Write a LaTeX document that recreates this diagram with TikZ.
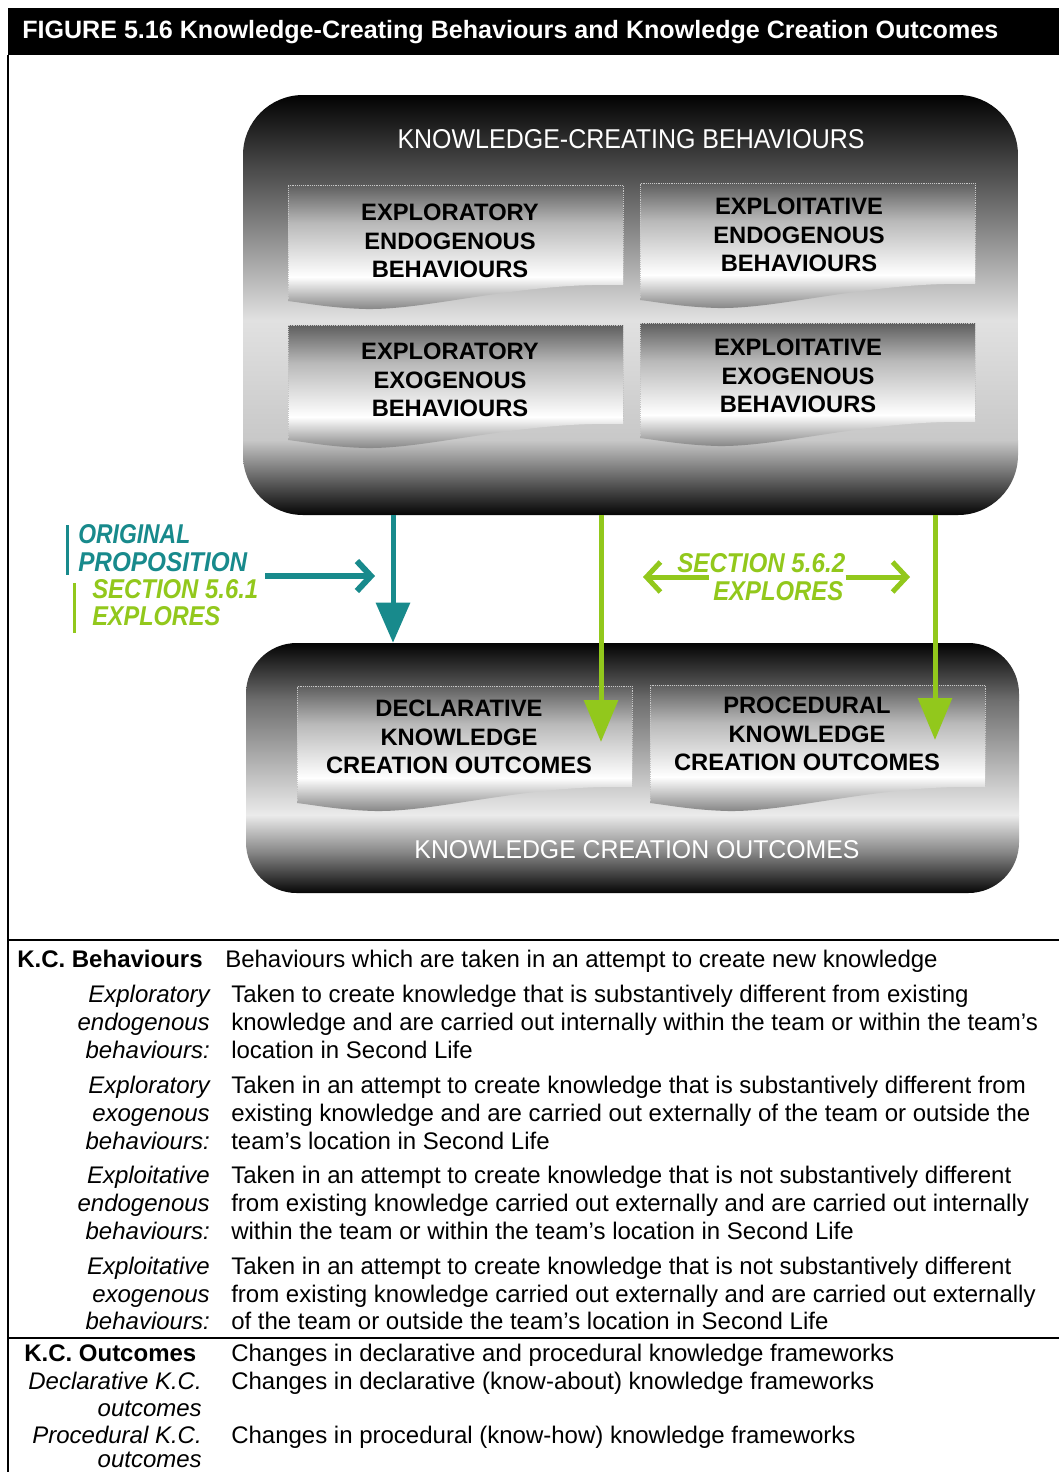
\documentclass[tikz,border=0pt]{standalone}
\usepackage{fontspec}
\setmainfont{Liberation Sans}
\usetikzlibrary{arrows.meta}
\definecolor{tealc}{RGB}{24,138,140}
\definecolor{greenc}{RGB}{146,200,28}
\definecolor{docA}{RGB}{92,92,92}
\definecolor{docB}{RGB}{185,185,185}
\definecolor{docC}{RGB}{120,120,120}
\newlength{\px}\setlength{\px}{0.75pt}
\newcommand{\capsfit}[3]{\resizebox{#1\px}{#2\px}{#3}}
\newcommand{\docbox}[4]{%
  \begin{scope}
    \clip (#1,#2) -- (#3,#2) -- (#3,{#4-16}) .. controls ({#3-103},{#4-19}) and ({#1+142},{#4+9}) .. ({#1+78},{#4+8}) .. controls ({#1+42},{#4+7}) and ({#1+17},{#4+2}) .. (#1,#4) -- cycle;
    \shade[top color=docA, bottom color=docB] ({#1-1},{#2-1}) rectangle ({#3+1},{#2+38});
    \shade[top color=docB, bottom color=white] ({#1-1},{#2+38}) rectangle ({#3+1},{#2+92});
    \shade[top color=white, bottom color=docC] ({#1-1},{#2+92}) rectangle ({#3+1},{#4+12});
  \end{scope}
  \draw[gray!45, densely dotted, line width=0.4pt] (#1,{#4-2}) -- (#1,#2) -- (#3,#2) -- (#3,{#4-18});}
\begin{document}
\begin{tikzpicture}[x=0.75pt,y=-0.75pt,
  boxtxt/.style={font=\fontsize{17.8}{21.5}\selectfont\bfseries, align=center, text=black, inner sep=0},
  tabtxt/.style={font=\fontsize{18}{21}\selectfont, inner sep=0, anchor=base west},
  tablab/.style={font=\fontsize{18}{21}\selectfont\itshape, inner sep=0, anchor=base east},
  tabhead/.style={font=\fontsize{18}{21}\selectfont\bfseries, inner sep=0, anchor=base west},
  tealv/.style={draw=tealc, line width=3.75pt, -{Triangle[length=30pt, width=25pt]}},
  greenv/.style={draw=greenc, line width=3.75pt, -{Triangle[length=31.5pt, width=25pt]}},
  tealh/.style={draw=tealc, line width=4.5pt, -{Straight Barb[length=10.5pt, width=22.5pt]}},
  greenh/.style={draw=greenc, line width=3.75pt, -{Straight Barb[length=10.5pt, width=22.5pt]}},
  rule/.style={draw=black, line width=1.5pt}]
\useasboundingbox (0,0) rectangle (1059,1472);
\fill[white] (0,0) rectangle (1059,1472);

% header
\fill[black] (8,8) rectangle (1059,55);
\node[anchor=west, text=white, inner sep=0, font=\bfseries] (title) at (22,32)
  {\resizebox{976\px}{!}{FIGURE 5.16 Knowledge-Creating Behaviours and Knowledge Creation Outcomes}};
\draw[rule] (8,55) -- (8,1472);

% top outer box
\begin{scope}
  \clip[rounded corners=45pt] (243,95) rectangle (1018,515);
  \shade[top color=black, bottom color={rgb,255:red,105;green,105;blue,105}] (240,93) rectangle (1020,200);
  \shade[top color={rgb,255:red,105;green,105;blue,105}, bottom color={rgb,255:red,225;green,225;blue,225}] (240,200) rectangle (1020,320);
  \shade[top color={rgb,255:red,225;green,225;blue,225}, bottom color={rgb,255:red,200;green,200;blue,200}] (240,320) rectangle (1020,440);
  \shade[top color={rgb,255:red,200;green,200;blue,200}, bottom color=black] (240,440) rectangle (1020,517);
\end{scope}
\node[inner sep=0, minimum width=581.25pt, minimum height=315pt] (kcb) at (630.5,305) {};
\node[text=white, inner sep=0] (kcbt) at (631,139) {\capsfit{467}{19}{KNOWLEDGE-CREATING BEHAVIOURS}};

\docbox{288}{185}{623}{301}
\docbox{640}{183}{975}{300}
\docbox{288}{325}{623}{440}
\docbox{640}{323}{975}{438}
\node[boxtxt] (b1) at (450,241) {EXPLORATORY\\ENDOGENOUS\\BEHAVIOURS};
\node[boxtxt] (b2) at (799,235) {EXPLOITATIVE\\ENDOGENOUS\\BEHAVIOURS};
\node[boxtxt] (b3) at (450,380) {EXPLORATORY\\EXOGENOUS\\BEHAVIOURS};
\node[boxtxt] (b4) at (798,376) {EXPLOITATIVE\\EXOGENOUS\\BEHAVIOURS};

% bottom outer box
\begin{scope}
  \clip[rounded corners=38pt] (246,643) rectangle (1019,893);
  \shade[top color=black, bottom color={rgb,255:red,110;green,110;blue,110}] (243,641) rectangle (1021,700);
  \shade[top color={rgb,255:red,110;green,110;blue,110}, bottom color={rgb,255:red,235;green,235;blue,235}] (243,700) rectangle (1021,815);
  \shade[top color={rgb,255:red,235;green,235;blue,235}, bottom color={rgb,255:red,135;green,135;blue,135}] (243,815) rectangle (1021,852);
  \shade[top color={rgb,255:red,135;green,135;blue,135}, bottom color=black] (243,852) rectangle (1021,895);
\end{scope}
\node[inner sep=0, minimum width=579.75pt, minimum height=187.5pt] (kco) at (632.5,768) {};
\node[text=white, inner sep=0] (kcot) at (637,850) {\capsfit{445}{18}{KNOWLEDGE CREATION OUTCOMES}};

\docbox{297}{686}{632}{803}
\docbox{650}{685}{985}{803}
\node[boxtxt] (dk) at (459,737) {DECLARATIVE\\KNOWLEDGE\\CREATION OUTCOMES};
\node[boxtxt] (pk) at (807,734) {PROCEDURAL\\KNOWLEDGE\\CREATION OUTCOMES};

% left labels
\draw[tealc, line width=2.25pt] (67,525) -- (67,575);
\draw[greenc, line width=2.25pt] (74,583) -- (74,633);
\node[anchor=west, inner sep=0, text=tealc] (orig) at (78,534) {\capsfit{112}{19}{\bfseries\itshape ORIGINAL}};
\node[anchor=west, inner sep=0, text=tealc] (prop) at (78,562) {\capsfit{169}{19}{\bfseries\itshape PROPOSITION}};
\node[anchor=west, inner sep=0, text=greenc] (sec1) at (92,589) {\capsfit{166}{19}{\bfseries\itshape SECTION 5.6.1}};
\node[anchor=west, inner sep=0, text=greenc] (expl1) at (92,616) {\capsfit{128}{19}{\bfseries\itshape EXPLORES}};
\node[anchor=west, inner sep=0, text=greenc] (sec2) at (677,563) {\capsfit{168}{19}{\bfseries\itshape SECTION 5.6.2}};
\node[anchor=west, inner sep=0, text=greenc] (expl2) at (713,591) {\capsfit{130}{19}{\bfseries\itshape EXPLORES}};

% arrows
\coordinate (xa) at (393,0);
\coordinate (xb) at (601,0);
\coordinate (xc) at (935,0);
\coordinate (gb) at (601,742);
\coordinate (gc) at (935,740);
\coordinate (th1) at (265,576);
\coordinate (th2) at (375,576);
\coordinate (gl) at (643,577);
\coordinate (gr) at (910,577);
\draw[tealv] (xa |- kcb.south) -- (xa |- kco.north);
\draw[greenv] (xb |- kcb.south) -- (gb);
\draw[greenv] (xc |- kcb.south) -- (gc);
\draw[tealh] (th1) -- (th2);
\draw[greenh] ([xshift=-3pt]expl2.west |- gl) -- (gl);
\draw[greenh] ([xshift=1.5pt]expl2.east |- gr) -- (gr);

% table
\draw[rule] (8,940) -- (1059,940);
\draw[rule] (8,1338) -- (1059,1338);

\node[tabhead] (kcbh) at (17,967) {K.C. Behaviours};
\node[tabtxt] (kcbd) at (225,967) {Behaviours which are taken in an attempt to create new knowledge};

\node[tablab] (l1a) at (210,1002) {Exploratory};
\node[tablab] (l1b) at (210,1030) {endogenous};
\node[tablab] (l1c) at (210,1058) {behaviours:};
\node[tabtxt] (d1a) at (231,1002) {Taken to create knowledge that is substantively different from existing};
\node[tabtxt] (d1b) at (231,1030) {knowledge and are carried out internally within the team or within the team’s};
\node[tabtxt] (d1c) at (231,1058) {location in Second Life};

\node[tablab] (l2a) at (210,1093) {Exploratory};
\node[tablab] (l2b) at (210,1121) {exogenous};
\node[tablab] (l2c) at (210,1149) {behaviours:};
\node[tabtxt] (d2a) at (231,1093) {Taken in an attempt to create knowledge that is substantively different from};
\node[tabtxt] (d2b) at (231,1121) {existing knowledge and are carried out externally of the team or outside the};
\node[tabtxt] (d2c) at (231,1149) {team’s location in Second Life};

\node[tablab] (l3a) at (210,1183) {Exploitative};
\node[tablab] (l3b) at (210,1211) {endogenous};
\node[tablab] (l3c) at (210,1239) {behaviours:};
\node[tabtxt] (d3a) at (231,1183) {Taken in an attempt to create knowledge that is not substantively different};
\node[tabtxt] (d3b) at (231,1211) {from existing knowledge carried out externally and are carried out internally};
\node[tabtxt] (d3c) at (231,1239) {within the team or within the team’s location in Second Life};

\node[tablab] (l4a) at (210,1274) {Exploitative};
\node[tablab] (l4b) at (210,1302) {exogenous};
\node[tablab] (l4c) at (210,1329) {behaviours:};
\node[tabtxt] (d4a) at (231,1274) {Taken in an attempt to create knowledge that is not substantively different};
\node[tabtxt] (d4b) at (231,1302) {from existing knowledge carried out externally and are carried out externally};
\node[tabtxt] (d4c) at (231,1329) {of the team or outside the team’s location in Second Life};

\node[tabhead] (kcoh) at (24,1361) {K.C. Outcomes};
\node[tabtxt] (kcod) at (231,1361) {Changes in declarative and procedural knowledge frameworks};
\node[tablab] (l5a) at (202,1389) {Declarative K.C.};
\node[tablab] (l5b) at (202,1416) {outcomes};
\node[tabtxt] (d5) at (231,1389) {Changes in declarative (know-about) knowledge frameworks};
\node[tablab] (l6a) at (202,1443) {Procedural K.C.};
\node[tablab] (l6b) at (202,1467) {outcomes};
\node[tabtxt] (d6) at (231,1443) {Changes in procedural (know-how) knowledge frameworks};
\end{tikzpicture}
\end{document}
